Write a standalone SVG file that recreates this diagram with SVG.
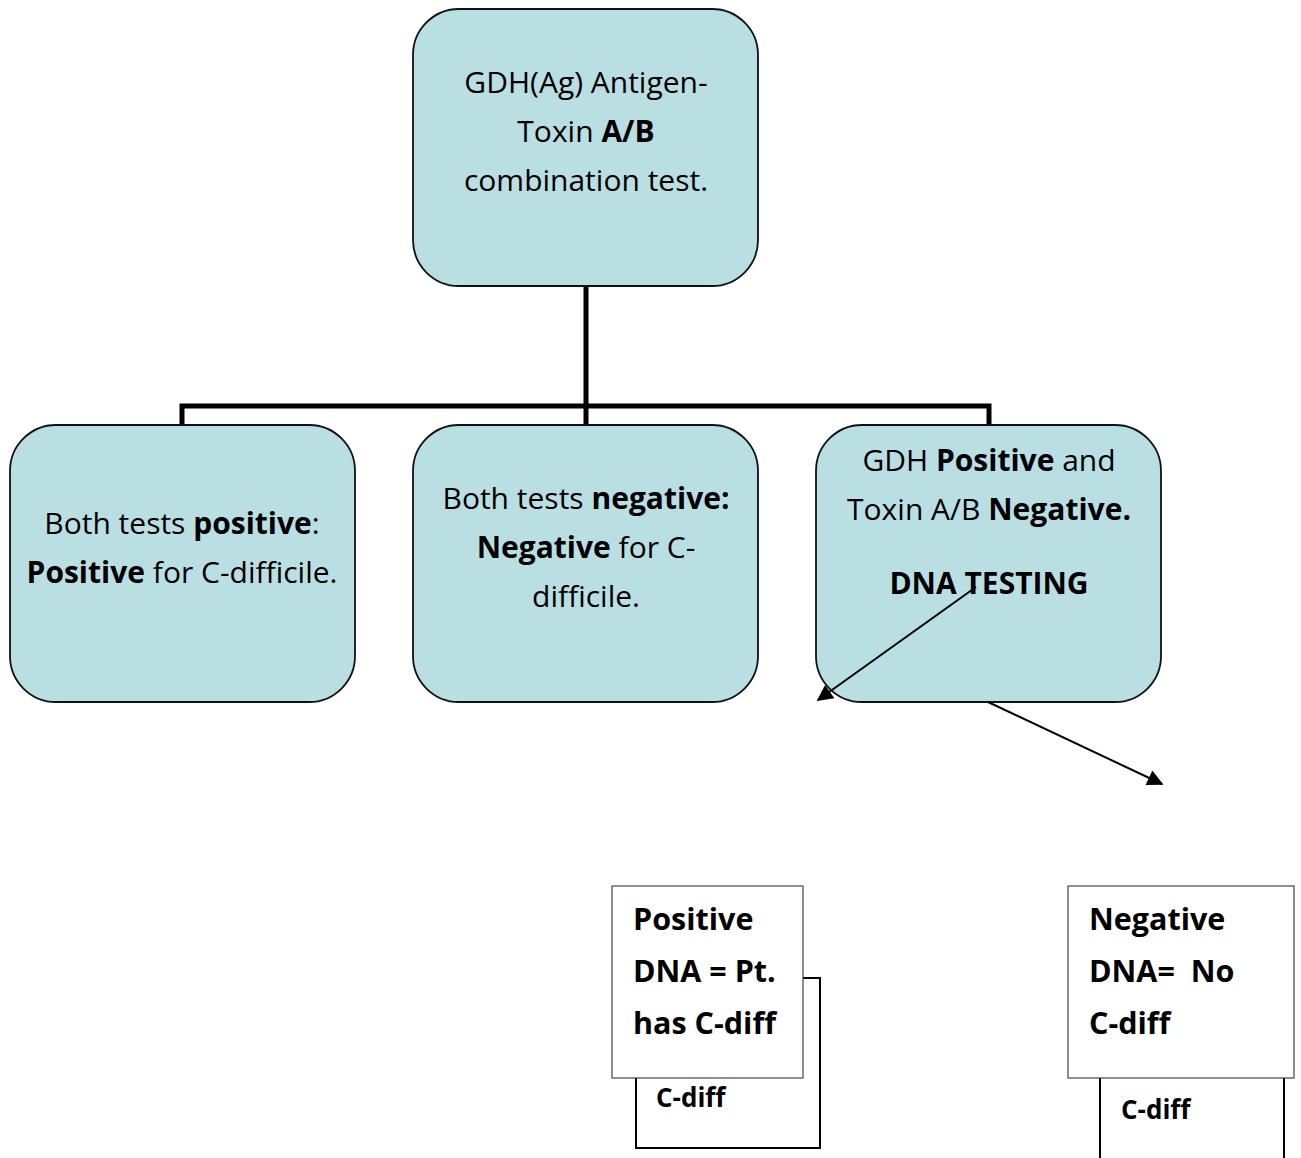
<svg xmlns="http://www.w3.org/2000/svg" width="1301" height="1158" viewBox="0 0 1301 1158">
<style>
.box{fill:#badfe3;stroke:#111;stroke-width:1.8}
.t{font-family:"Open Sans","Noto Sans","Liberation Sans",sans-serif;font-size:30px;fill:#000;text-anchor:middle}
.b{font-weight:bold}
.bt{font-family:"Open Sans","Noto Sans","Liberation Sans",sans-serif;font-size:30.5px;font-weight:bold;fill:#000;white-space:pre}
.st{font-family:"Open Sans","Noto Sans","Liberation Sans",sans-serif;font-size:26px;font-weight:bold;fill:#000}
.conn{fill:none;stroke:#000;stroke-width:5}
.arr{fill:none;stroke:#000;stroke-width:2}
</style>
<defs>
<marker id="ah2" viewBox="0 0 10 10" refX="9" refY="5" markerWidth="18" markerHeight="16" markerUnits="userSpaceOnUse" orient="auto">
<path d="M0,0 L10,5 L0,10 z" fill="#000"/>
</marker>
</defs>
<g id="connectors">
<path class="conn" d="M586,286 V406 M182,425 V406 H989 V425 M586,406 V425"/>
</g>
<g id="n-top">
<rect class="box" x="413" y="9" width="345" height="277" rx="46"/>
<text class="t" x="586" y="93">GDH(Ag) Antigen-</text>
<text class="t" x="586" y="142">Toxin <tspan class="b">A/B</tspan></text>
<text class="t" x="586" y="191">combination test.</text>
</g>
<g id="n-pos">
<rect class="box" x="10" y="425" width="345" height="277" rx="46"/>
<text class="t" x="182" y="534">Both tests <tspan class="b">positive</tspan>:</text>
<text class="t" x="182" y="583"><tspan class="b">Positive</tspan> for C-difficile.</text>
</g>
<g id="n-neg">
<rect class="box" x="413" y="425" width="345" height="277" rx="46"/>
<text class="t" x="586" y="509">Both tests <tspan class="b">negative:</tspan></text>
<text class="t" x="586" y="558"><tspan class="b">Negative</tspan> for C-</text>
<text class="t" x="586" y="607">difficile.</text>
</g>
<g id="n-gdh">
<rect class="box" x="816" y="425" width="345" height="277" rx="46"/>
<text class="t" x="989" y="471">GDH <tspan class="b">Positive</tspan> and</text>
<text class="t" x="989" y="520">Toxin A/B <tspan class="b">Negative.</tspan></text>
<text class="t b" x="989" y="594">DNA TESTING</text>
</g>
<g id="arrows">
<line class="arr" x1="976" y1="587" x2="818" y2="700" marker-end="url(#ah2)"/>
<line class="arr" x1="988" y1="702" x2="1162" y2="784" marker-end="url(#ah2)"/>
</g>
<g id="n-posdna-back">
<rect x="636" y="978" width="184" height="170" fill="#fff" stroke="#000" stroke-width="2"/>
<text class="st" x="656" y="1107">C-diff</text>
</g>
<g id="n-posdna">
<rect x="612" y="886" width="191" height="192" fill="#fff" stroke="#444" stroke-width="1.2"/>
<text class="bt" x="633" y="930">Positive</text>
<text class="bt" x="633" y="982">DNA = Pt.</text>
<text class="bt" x="633" y="1034">has C-diff</text>
</g>
<g id="n-negdna-back">
<rect x="1100" y="1060" width="184" height="120" fill="#fff" stroke="#000" stroke-width="2"/>
<text class="st" x="1121" y="1119">C-diff</text>
</g>
<g id="n-negdna">
<rect x="1068" y="886" width="226" height="192" fill="#fff" stroke="#444" stroke-width="1.2"/>
<text class="bt" x="1089" y="930">Negative</text>
<text class="bt" x="1089" y="982">DNA=  No</text>
<text class="bt" x="1089" y="1034">C-diff</text>
</g>
</svg>
